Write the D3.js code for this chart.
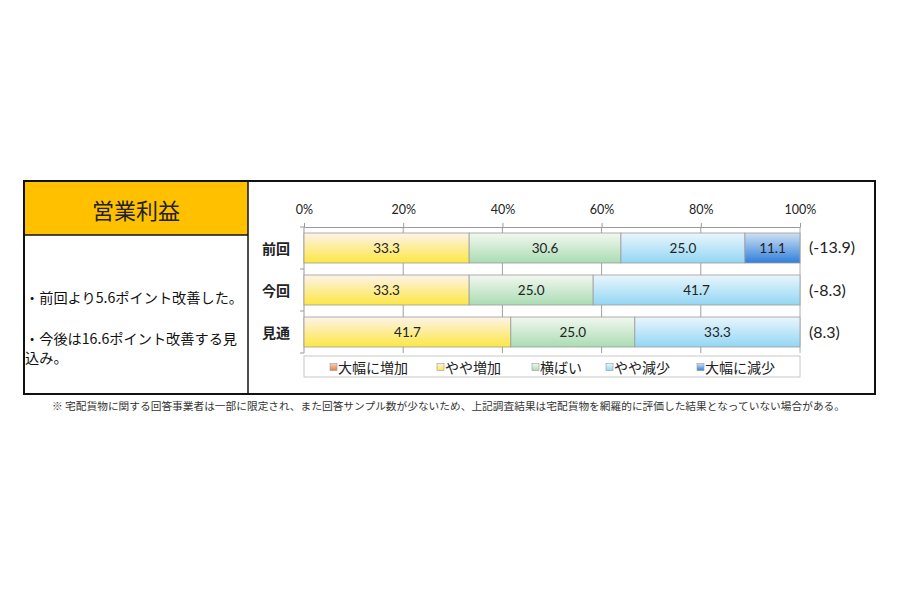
<!DOCTYPE html>
<html lang="ja">
<head>
<meta charset="UTF-8">
<title>営業利益</title>
<script src="https://d3js.org/d3.v7.min.js"></script>
<style>
  body { margin: 0; background: #fff; }
  svg { display: block; font-family: "Noto Sans CJK JP", "Noto Sans", sans-serif; }
  .num { font-family: Lato, "Open Sans", sans-serif; fill: #222; }
  .axis path, .axis line { stroke: #9a9a9a; }
</style>
</head>
<body>
<div id="chart"></div>
<script>
// data
const categories = ["前回", "今回", "見通"];
const seriesNames = ["大幅に増加", "やや増加", "横ばい", "やや減少", "大幅に減少"];
const bigUp   = [0, 0, 0];
const smallUp = [33.3, 33.3, 41.7];
const flat    = [30.6, 25.0, 25.0];
const smallDn = [25.0, 41.7, 33.3];
const bigDn   = [11.1, 0, 0];
const diLabels = ["(-13.9)", "(-8.3)", "(8.3)"];
const xTicks = [0, 20, 40, 60, 80, 100];
const title = "営業利益";
const notes = [["・前回より5.6ポイント改善した。"], ["・今後は16.6ポイント改善する見", "込み。"]];
const footnote = "※ 宅配貨物に関する回答事業者は一部に限定され、また回答サンプル数が少ないため、上記調査結果は宅配貨物を網羅的に評価した結果となっていない場合がある。";

// colours per series: [top, bottom] of the gradient
const colors = [
  ["#f6d2b8", "#e0804a"],
  ["#fdf3ea", "#fde743"],
  ["#f2f8f0", "#aadcb3"],
  ["#eaf6fc", "#92d6f4"],
  ["#cfe0f2", "#2f7fdc"]
];

const values = [bigUp, smallUp, flat, smallDn, bigDn];
const rows = categories.map((c, i) => {
  const r = { cat: c };
  seriesNames.forEach((s, j) => r[s] = values[j][i]);
  return r;
});
const stacked = d3.stack().keys(seriesNames)(rows);

const svg = d3.select("#chart").append("svg")
  .attr("width", 900)
  .attr("height", 600);

const defs = svg.append("defs");
colors.forEach((c, i) => {
  const g = defs.append("linearGradient")
    .attr("id", "grad" + i)
    .attr("x1", 0).attr("y1", 0).attr("x2", 0).attr("y2", 1);
  g.append("stop").attr("offset", "0%").attr("stop-color", c[0]);
  g.append("stop").attr("offset", "100%").attr("stop-color", c[1]);
});

// frame
const frame = { x0: 24, x1: 875, y0: 181, y1: 394, split: 248, head: 235 };
svg.append("rect")
  .attr("x", frame.x0).attr("y", frame.y0)
  .attr("width", frame.split - frame.x0).attr("height", frame.head - frame.y0)
  .attr("fill", "#ffc000");
svg.append("line")
  .attr("x1", frame.x0).attr("x2", frame.split)
  .attr("y1", frame.head).attr("y2", frame.head)
  .attr("stroke", "#111").attr("stroke-width", 1.5);
svg.append("line")
  .attr("x1", frame.split).attr("x2", frame.split)
  .attr("y1", frame.y0).attr("y2", frame.y1)
  .attr("stroke", "#111").attr("stroke-width", 1.5);
svg.append("rect")
  .attr("x", frame.x0).attr("y", frame.y0)
  .attr("width", frame.x1 - frame.x0).attr("height", frame.y1 - frame.y0)
  .attr("fill", "none").attr("stroke", "#111").attr("stroke-width", 2);

svg.append("text")
  .attr("x", (frame.x0 + frame.split) / 2).attr("y", 209)
  .attr("text-anchor", "middle").attr("dominant-baseline", "central")
  .attr("font-size", 22).attr("fill", "#222")
  .text(title);

// notes: one text per paragraph, wrapped lines as tspans
const noteY = [297, 338];
notes.forEach((lines, i) => {
  svg.append("text")
    .attr("x", 25).attr("y", noteY[i])
    .attr("dominant-baseline", "central")
    .attr("font-size", 14.2).attr("fill", "#111")
    .selectAll("tspan")
    .data(lines)
    .join("tspan")
    .attr("x", 25)
    .attr("dy", (d, k) => k === 0 ? 0 : 19)
    .text(d => d);
});

// chart
const x = d3.scaleLinear().domain([0, 100]).range([304, 800]);
const y = d3.scaleBand().domain(categories).range([227, 353])
  .paddingInner(0.2857).paddingOuter(0.1428);

// grid
svg.append("g")
  .selectAll("line")
  .data(xTicks.slice(1, -1))
  .join("line")
  .attr("x1", d => x(d)).attr("x2", d => x(d))
  .attr("y1", 227).attr("y2", 353)
  .attr("stroke", "#a0a0a0");

svg.append("g")
  .attr("class", "axis")
  .attr("transform", "translate(0,227)")
  .call(d3.axisTop(x).tickValues(xTicks).tickSize(4).tickFormat(d => d + "%"))
  .call(g => g.selectAll("text").attr("class", "num").attr("font-size", 12.5).attr("y", -13).attr("fill", "#222"));

const bandBounds = [227].concat(categories.map(c => y(c) + y.bandwidth() + y.step() * y.paddingInner() / 2));
svg.append("line")
  .attr("x1", 304).attr("x2", 304).attr("y1", 227).attr("y2", 353)
  .attr("stroke", "#9a9a9a");
svg.append("g")
  .selectAll("line")
  .data(bandBounds)
  .join("line")
  .attr("x1", 300).attr("x2", 304)
  .attr("y1", d => d).attr("y2", d => d)
  .attr("stroke", "#9a9a9a");
svg.append("line")
  .attr("x1", 800).attr("x2", 800).attr("y1", 227).attr("y2", 353)
  .attr("stroke", "#b0b0b0");

const layer = svg.append("g")
  .selectAll("g")
  .data(stacked)
  .join("g")
  .attr("fill", (d, i) => "url(#grad" + i + ")");

layer.selectAll("rect")
  .data(d => d.filter(p => p[1] - p[0] > 0))
  .join("rect")
  .attr("x", d => x(d[0]))
  .attr("y", d => y(d.data.cat))
  .attr("width", d => x(d[1]) - x(d[0]))
  .attr("height", y.bandwidth())
  .attr("stroke", "#9c9c9c")
  .attr("stroke-width", 0.8);

layer.selectAll("text")
  .data(d => d.filter(p => p[1] - p[0] > 0))
  .join("text")
  .attr("class", "num")
  .attr("x", d => (x(d[0]) + x(d[1])) / 2)
  .attr("y", d => y(d.data.cat) + y.bandwidth() / 2)
  .attr("text-anchor", "middle").attr("dominant-baseline", "central")
  .attr("font-size", 13.5)
  .text(d => (d[1] - d[0]).toFixed(1));

// category labels
svg.append("g")
  .selectAll("text")
  .data(categories)
  .join("text")
  .attr("x", 276)
  .attr("y", d => y(d) + y.bandwidth() / 2)
  .attr("text-anchor", "middle").attr("dominant-baseline", "central")
  .attr("font-size", 14).attr("font-weight", "bold").attr("fill", "#222")
  .text(d => d);

// DI labels
svg.append("g")
  .selectAll("text")
  .data(categories)
  .join("text")
  .attr("class", "num")
  .attr("x", 809)
  .attr("y", (d, i) => y(d) + y.bandwidth() / 2 - 1)
  .attr("dominant-baseline", "central")
  .attr("font-size", 16)
  .text((d, i) => diLabels[i]);

// legend
svg.append("rect")
  .attr("x", 304).attr("y", 356).attr("width", 496).attr("height", 21)
  .attr("fill", "#fff").attr("stroke", "#c8c8c8");
const legendX = [330, 437, 532, 606, 697];
const leg = svg.append("g")
  .selectAll("g")
  .data(seriesNames)
  .join("g")
  .attr("transform", (d, i) => "translate(" + legendX[i] + ",367)");
leg.append("rect")
  .attr("x", 0).attr("y", -3.5).attr("width", 7).attr("height", 7)
  .attr("fill", (d, i) => "url(#grad" + i + ")")
  .attr("stroke", "#999").attr("stroke-width", 0.6);
leg.append("text")
  .attr("x", 8).attr("y", 0)
  .attr("dominant-baseline", "central")
  .attr("font-size", 14).attr("fill", "#222")
  .text(d => d);

// footnote
svg.append("text")
  .attr("x", 52).attr("y", 405)
  .attr("dominant-baseline", "central")
  .attr("font-size", 10).attr("fill", "#333")
  .attr("textLength", 793).attr("lengthAdjust", "spacingAndGlyphs")
  .text(footnote);
</script>
</body>
</html>
